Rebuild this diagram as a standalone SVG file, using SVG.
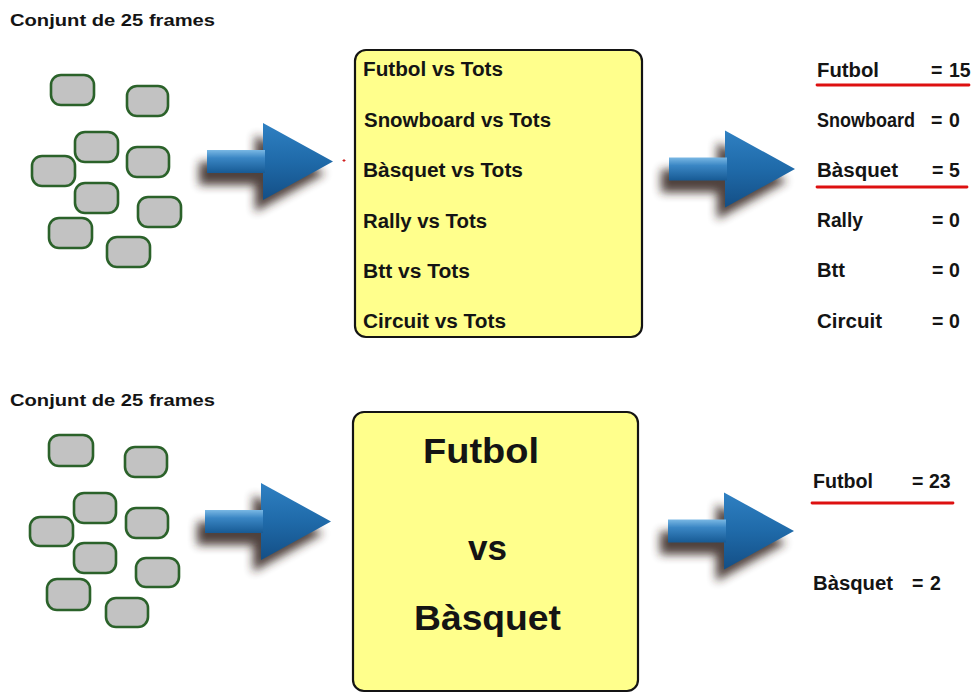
<svg xmlns="http://www.w3.org/2000/svg" width="977" height="693" viewBox="0 0 977 693">
  <style>
    .t { font-family: "Liberation Sans", Arial, sans-serif; font-weight: bold; fill: #141414; }
    .title { font-size: 16px; }
    .item { font-size: 19.5px; }
    .res { font-size: 19.5px; }
    .big { font-size: 35px; }
    .frame { fill: #c2c2c2; stroke: #2b622a; stroke-width: 2.6; }
    .box { fill: #ffff8c; stroke: #141414; stroke-width: 2.2; }
    .mark { stroke: #dd1010; stroke-width: 2.8; stroke-linecap: round; fill: none; }
  </style>
  <defs>
    <linearGradient id="headGrad" x1="0" y1="-38" x2="0" y2="38" gradientUnits="userSpaceOnUse">
      <stop offset="0" stop-color="#2f80c2"/>
      <stop offset="0.5" stop-color="#1f6aa9"/>
      <stop offset="1" stop-color="#144f86"/>
    </linearGradient>
    <linearGradient id="shaftGrad" x1="0" y1="-11.5" x2="0" y2="11.5" gradientUnits="userSpaceOnUse">
      <stop offset="0" stop-color="#7ab8e4"/>
      <stop offset="0.35" stop-color="#3a86c4"/>
      <stop offset="1" stop-color="#175a94"/>
    </linearGradient>
    <filter id="soft" x="-30%" y="-30%" width="160%" height="160%">
      <feGaussianBlur stdDeviation="5"/>
    </filter>
    <!-- block arrow, origin at the middle of the shaft's left end -->
    <g id="arrow">
      <path d="M0,-11.5 H56 V-38.5 L126,0 L56,38.5 V11.5 H0 Z" transform="translate(-8,12)" fill="#33241c" opacity="0.85" filter="url(#soft)"/>
      <path d="M56,-38.5 L126,0 L56,38.5 Z" fill="url(#headGrad)"/>
      <rect x="0" y="-11.5" width="58" height="23" fill="url(#shaftGrad)"/>
    </g>
  </defs>

  <!-- first row: one-against-all classifiers -->
  <g id="frames-top">
    <text class="t title" x="10" y="26" textLength="205" lengthAdjust="spacingAndGlyphs">Conjunt de 25 frames</text>
    <rect class="frame" x="51" y="75" width="43" height="30" rx="10"/>
    <rect class="frame" x="127" y="86" width="41" height="30" rx="10"/>
    <rect class="frame" x="75" y="132" width="43" height="30" rx="10"/>
    <rect class="frame" x="32" y="156" width="43" height="30" rx="10"/>
    <rect class="frame" x="127" y="147" width="42" height="30" rx="10"/>
    <rect class="frame" x="75" y="183" width="43" height="30" rx="10"/>
    <rect class="frame" x="138" y="197" width="43" height="30" rx="10"/>
    <rect class="frame" x="49" y="218" width="43" height="30" rx="10"/>
    <rect class="frame" x="107" y="237" width="43" height="30" rx="10"/>
  </g>

  <g id="classifiers-top">
    <rect class="box" x="355" y="50" width="287" height="287" rx="11"/>
    <text class="t item" x="363" y="76" textLength="140" lengthAdjust="spacingAndGlyphs">Futbol vs Tots</text>
    <text class="t item" x="364" y="127" textLength="187" lengthAdjust="spacingAndGlyphs">Snowboard vs Tots</text>
    <text class="t item" x="363" y="177" textLength="160" lengthAdjust="spacingAndGlyphs">Bàsquet vs Tots</text>
    <text class="t item" x="363" y="228" textLength="124" lengthAdjust="spacingAndGlyphs">Rally vs Tots</text>
    <text class="t item" x="363" y="278" textLength="107" lengthAdjust="spacingAndGlyphs">Btt vs Tots</text>
    <text class="t item" x="363" y="328" textLength="143" lengthAdjust="spacingAndGlyphs">Circuit vs Tots</text>
  </g>

  <g id="results-top">
    <text class="t res" x="817" y="77" textLength="62" lengthAdjust="spacingAndGlyphs">Futbol</text>
    <text class="t res" x="931" y="77">=</text>
    <text class="t res" x="949" y="77">15</text>
    <line class="mark" x1="817" y1="85" x2="969" y2="85"/>

    <text class="t res" x="817" y="127" textLength="98" lengthAdjust="spacingAndGlyphs">Snowboard</text>
    <text class="t res" x="931" y="127">=</text>
    <text class="t res" x="949" y="127">0</text>

    <text class="t res" x="817" y="177" textLength="81" lengthAdjust="spacingAndGlyphs">Bàsquet</text>
    <text class="t res" x="932" y="177">=</text>
    <text class="t res" x="949" y="177">5</text>
    <line class="mark" x1="817" y1="187" x2="967" y2="187"/>

    <text class="t res" x="817" y="227" textLength="46" lengthAdjust="spacingAndGlyphs">Rally</text>
    <text class="t res" x="932" y="227">=</text>
    <text class="t res" x="949" y="227">0</text>

    <text class="t res" x="817" y="277" textLength="28" lengthAdjust="spacingAndGlyphs">Btt</text>
    <text class="t res" x="932" y="277">=</text>
    <text class="t res" x="949" y="277">0</text>

    <text class="t res" x="817" y="328" textLength="65" lengthAdjust="spacingAndGlyphs">Circuit</text>
    <text class="t res" x="932" y="328">=</text>
    <text class="t res" x="949" y="328">0</text>
  </g>

  <!-- second row: pairwise classifier -->
  <g id="frames-bottom">
    <text class="t title" x="10" y="406" textLength="205" lengthAdjust="spacingAndGlyphs">Conjunt de 25 frames</text>
    <rect class="frame" x="49" y="435" width="44" height="31" rx="10"/>
    <rect class="frame" x="125" y="447" width="42" height="30" rx="10"/>
    <rect class="frame" x="74" y="493" width="42" height="30" rx="10"/>
    <rect class="frame" x="30" y="517" width="43" height="29" rx="10"/>
    <rect class="frame" x="126" y="508" width="42" height="30" rx="10"/>
    <rect class="frame" x="74" y="543" width="42" height="30" rx="10"/>
    <rect class="frame" x="136" y="558" width="43" height="29" rx="10"/>
    <rect class="frame" x="47" y="579" width="43" height="31" rx="10"/>
    <rect class="frame" x="106" y="598" width="42" height="29" rx="10"/>
  </g>

  <g id="classifier-bottom">
    <rect class="box" x="353" y="412" width="285" height="279" rx="11"/>
    <text class="t big" x="423" y="463" textLength="116" lengthAdjust="spacingAndGlyphs">Futbol</text>
    <text class="t big" x="468" y="560" textLength="39" lengthAdjust="spacingAndGlyphs">vs</text>
    <text class="t big" x="414" y="630" textLength="147" lengthAdjust="spacingAndGlyphs">Bàsquet</text>
  </g>

  <g id="results-bottom">
    <text class="t res" x="813" y="488" textLength="60" lengthAdjust="spacingAndGlyphs">Futbol</text>
    <text class="t res" x="912" y="488">=</text>
    <text class="t res" x="929" y="488">23</text>
    <line class="mark" x1="812" y1="503" x2="953" y2="503"/>

    <text class="t res" x="813" y="590" textLength="80" lengthAdjust="spacingAndGlyphs">Bàsquet</text>
    <text class="t res" x="912" y="590">=</text>
    <text class="t res" x="930" y="590">2</text>
  </g>

  <!-- connectors -->
  <g id="connectors">
    <use href="#arrow" transform="translate(207,161.5)"/>
    <use href="#arrow" transform="translate(669,169)"/>
    <use href="#arrow" transform="translate(205,521.5)"/>
    <use href="#arrow" transform="translate(668,531)"/>
    <path d="M342.5,160.5 h3 M344,159 v3" stroke="#d02020" stroke-width="1"/>
  </g>
</svg>
